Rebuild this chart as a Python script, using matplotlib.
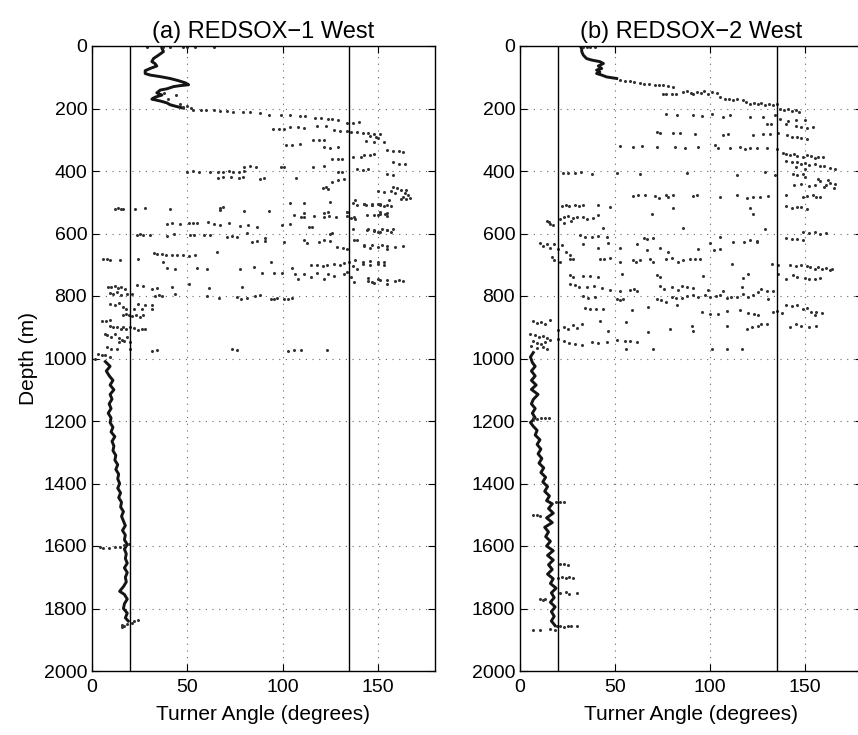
import matplotlib
matplotlib.use('Agg')
import matplotlib.pyplot as plt

plt.rcParams['font.family'] = ['Liberation Sans', 'DejaVu Sans']

# Turner angle (deg), depth (m)
bounds = [20, 135]
xticks = [0, 50, 100, 150]
yticks = list(range(0, 2001, 200))
titles = ['(a) REDSOX\u22121 West', '(b) REDSOX\u22122 West']

west1_top = [(36.7, 7), (37.5, 18), (35, 29), (32.3, 40), (31.4, 50), (33, 56), (34, 64), (30.5, 72),
             (27.9, 79), (27.9, 88), (30.5, 93), (35.8, 98), (41, 104), (45.4, 111), (49, 118), (50.7, 124),
             (46, 127), (42.8, 130), (39.3, 137), (35.8, 141), (34, 150), (36.7, 157), (33, 164),
             (31.4, 170), (35.8, 176), (39.3, 182), (41, 188), (44.6, 194), (48, 199)]

west1_deep = [(7, 1010), (9.5, 1025), (7.5, 1040), (9, 1055), (11, 1070), (9.5, 1085), (11.5, 1100),
              (9.5, 1115), (10.5, 1130), (9, 1145), (10, 1160), (8.5, 1175), (10, 1190), (9.5, 1205),
              (11, 1220), (10, 1235), (12, 1250), (10.5, 1265), (11.5, 1280), (11, 1295), (12.5, 1310),
              (12, 1325), (13.5, 1340), (12.5, 1355), (14, 1370), (13.5, 1385), (14.5, 1400), (13.5, 1415),
              (15, 1430), (14, 1445), (15.5, 1460), (15, 1475), (16.5, 1490), (15.5, 1505), (16.5, 1520),
              (17.5, 1535), (16, 1550), (17.5, 1565), (17, 1580), (18.5, 1595), (17, 1610), (18, 1625),
              (17.5, 1640), (18.5, 1655), (17, 1670), (18.5, 1685), (17.5, 1700), (18, 1715), (16.5, 1730),
              (14.5, 1745), (17, 1755), (18.5, 1770), (17, 1785), (16.5, 1800), (18.5, 1815), (17.5, 1830),
              (19, 1840)]

west1_dots = [
    (29, 3), (37, 3), (41, 4), (48, 3), (50, 4), (54, 4), (64, 4),
    (38, 150), (44, 158), (40, 170), (46, 185), (48, 195), (50, 192), (52, 197),
    (53, 206), (57, 206), (60, 206), (64, 206), (67, 207), (71, 207), (74, 212), (79, 212), (83, 212),
    (88, 214), (93, 222), (99, 222), (104, 222), (109, 225), (112, 225), (117, 229), (120, 229),
    (124, 232), (126, 234), (129, 236), (134, 245), (137, 245), (140, 244),
    (95, 266), (98, 265), (101, 264), (104, 260), (108, 258), (111, 262), (118, 255), (123, 256),
    (127, 270), (130, 271), (134, 272), (136, 275), (139, 276), (142, 277), (145, 278), (148, 280),
    (151, 282), (146, 288), (149, 291), (150, 295),
    (144, 305), (148, 308), (153, 306), (155, 333), (158, 335), (161, 337), (163, 338), (158, 372),
    (161, 376), (164, 378), (143, 348), (146, 350), (148, 346), (137, 356), (141, 355),
    (116, 300), (119, 302), (122, 301), (122, 322), (125, 325), (129, 324), (102, 317), (105, 318),
    (109, 315), (126, 362), (129, 360), (131, 361),
    (139, 394), (142, 396), (145, 392), (155, 410), (158, 413),
    (158, 450), (160, 455), (162, 460), (164, 470), (166, 478), (167, 485), (163, 482), (165, 462),
    (159, 470), (150, 465), (153, 466), (157, 463), (143, 505), (147, 508), (151, 510), (151, 532),
    (155, 535),
    (50, 402), (53, 401), (56, 402), (62, 403), (66, 402), (69, 404), (72, 400), (74, 403), (77, 402),
    (80, 400), (66, 421), (69, 420), (73, 418), (77, 421), (79, 420), (88, 426), (90, 423), (80, 387),
    (83, 385), (86, 388), (99, 386), (101, 388), (107, 421), (116, 388), (122, 384), (121, 455),
    (123, 452), (124, 458), (126, 436), (129, 430), (132, 425), (129, 404), (131, 402),
    (67, 518), (69, 516), (80, 528), (93, 528), (104, 502), (111, 503), (111, 533), (122, 534),
    (124, 530), (134, 530),
    (12, 520), (13.5, 519), (15, 520), (16.5, 521), (22.6, 522), (28, 518), (41, 523), (67.4, 524),
    (125, 499), (137, 503), (139, 510), (144, 508), (147, 510), (150, 506), (153, 512), (155, 510),
    (157, 513),
    (106, 542), (109.5, 547), (111, 548), (116.5, 545), (121.7, 546), (124.4, 543), (128, 548),
    (134, 544), (137.5, 547), (144.5, 540), (148, 542), (150, 541), (155, 543),
    (39.3, 568), (42, 566), (46.3, 570), (50.7, 565), (53, 566), (55, 565), (61, 564), (64, 570),
    (67, 572), (71.7, 567), (77.9, 576), (82, 573), (86.7, 578), (99.8, 572), (104, 568), (114, 578),
    (115.6, 580), (125, 600), (126, 598),
    (23.5, 604), (25, 603), (27, 605), (30.5, 606), (39.3, 607), (42.8, 603), (51.6, 605), (53.3, 606),
    (58.6, 605), (62, 604), (70.9, 610), (73.5, 609), (76.1, 611), (81.4, 599), (84, 626), (86.7, 625),
    (91, 614), (91, 625), (100.7, 626), (111, 620), (113, 630), (119, 627), (121.7, 622), (125, 625),
    (128.8, 642), (131.5, 645), (134, 650), (137.5, 620), (139, 621), (144.5, 588), (148, 592),
    (151, 594), (155, 590), (157, 595), (143, 641), (146, 646), (150, 643), (155, 650),
    (32.3, 663), (34, 664), (36.7, 666), (39, 669), (42, 670), (44.6, 668), (48, 669), (50.7, 672),
    (54, 670), (65.6, 658), (37.5, 690),
    (6, 683), (7.7, 683), (9.5, 684), (14.7, 685), (24.4, 680),
    (93.7, 690), (114.7, 702), (118, 700), (121, 703), (123.5, 701), (127, 697), (130, 700),
    (132.3, 695), (135, 690), (137, 705), (139, 712), (142, 697), (146, 700), (150, 698), (153, 701),
    (39.3, 710), (43.7, 712), (55, 711), (60.3, 712), (77.9, 712), (85, 707), (89.3, 725), (95.4, 725),
    (99.8, 725), (105, 710), (106.5, 728), (108, 745), (111, 730), (115, 738), (118, 725), (122, 744),
    (124, 728), (127, 735), (132, 730), (134, 722), (136, 738), (137.5, 755), (145, 752), (148, 758),
    (151, 750), (155, 760),
    (8.6, 770), (10, 772), (12, 768), (13.5, 775), (15, 770), (17.4, 778), (23.5, 765), (27, 768),
    (31.4, 778), (34, 775), (42, 772), (50.7, 762), (61.2, 774), (78.8, 771),
    (9.5, 790), (11, 795), (13, 788), (15, 796), (18.2, 792), (20.9, 793), (33, 800), (35, 797),
    (36.7, 800), (43.7, 795), (60.3, 801), (66.5, 806), (76, 804), (78, 809), (81.4, 806), (85.8, 800),
    (88.4, 797), (93.7, 808), (95.5, 811), (97.2, 807), (100.7, 809), (103, 808), (105, 805),
    (9.5, 825), (12, 830), (14, 822), (16.5, 835), (18, 841), (22, 840), (26, 841), (31.4, 840),
    (24.4, 826), (28, 828), (31.4, 830),
    (16.5, 860), (18, 858), (19.5, 862), (21, 865), (23, 860), (25, 866), (27, 861), (5, 879),
    (7.5, 880), (9.5, 878),
    (16.5, 900), (18, 905), (20, 898), (22, 902), (24, 908), (26, 904), (28, 907), (9.5, 895),
    (11, 900), (13, 898), (15, 905),
    (6.8, 920), (8, 925), (10, 930), (12, 922), (14, 935), (16, 940), (18.2, 930), (14, 946), (17, 945),
    (20, 948),
    (7.7, 962), (10, 968), (13, 970), (20, 970), (31.4, 975), (34, 973), (73.5, 970), (76, 972),
    (103, 975), (106, 974), (109.5, 973), (123.5, 972),
    (3.3, 985), (5, 990), (7, 988), (9.5, 995), (1.6, 1002),
    (138, 493), (143, 505), (147, 507), (151, 505), (156, 493), (162, 488), (165, 489), (134, 530),
    (136, 549), (138, 552), (151, 536), (154, 537), (137, 584), (145, 586), (148, 590), (150, 594),
    (152, 585), (155, 588), (158, 586), (143, 637), (147, 637), (152, 638), (155, 640), (159, 642),
    (163, 640), (138, 685), (142, 690), (146, 688), (150, 690), (153, 692), (145, 742), (147, 754),
    (150, 745), (155, 749), (159, 752), (161, 750), (163, 751),
    (4, 1603), (6, 1605), (9, 1606), (12, 1604), (14.7, 1602), (17, 1598), (19.5, 1595),
    (15.5, 1852), (17, 1855), (18.5, 1850), (22, 1840), (24, 1838), (21, 1845), (16, 1860)]

west2_top = [(32, 3), (32.5, 10), (32.5, 18), (33.3, 29), (35, 40), (37.7, 45), (42, 50), (43.9, 56),
             (41.2, 64), (43, 72), (40.3, 77), (42, 83), (40.3, 88), (43, 93), (45.6, 99), (50.9, 104)]

west2_deep = [(7, 981), (5.5, 995), (6.5, 1013), (8, 1025), (6, 1040), (8, 1056), (6, 1070), (8.5, 1085),
              (6, 1099), (9.5, 1115), (7, 1131), (6, 1145), (8, 1160), (6.5, 1175), (8, 1190), (5.5, 1205),
              (7, 1217), (9, 1230), (8, 1245), (10.5, 1260), (9, 1275), (11, 1290), (9.5, 1305),
              (11.5, 1320), (10, 1335), (12.5, 1350), (11, 1365), (13.5, 1380), (12, 1395), (14.5, 1410),
              (13, 1425), (15.5, 1440), (14, 1455), (17, 1465), (15, 1480), (17.5, 1495), (14, 1510),
              (17, 1525), (13, 1540), (15, 1555), (13.5, 1570), (16, 1585), (14, 1600), (17.5, 1615),
              (14.5, 1630), (17.5, 1645), (15, 1660), (17, 1675), (14.5, 1690), (17.5, 1705), (16, 1720),
              (19, 1735), (16.5, 1750), (18, 1765), (16, 1780), (18.5, 1795), (16.5, 1810), (18, 1825),
              (16.5, 1840), (18.5, 1855)]

west2_dots = [
    (33, 2), (35, 2), (37, 2), (39.5, 2), (52.6, 110), (55, 112), (58, 113), (60, 115), (63, 118),
    (65, 120), (68, 122), (71, 124), (73, 126), (75, 125), (78, 128), (80.7, 131), (75, 153), (77, 152),
    (80, 155), (82, 153), (86, 148), (88, 145), (90, 150), (91, 153), (93, 146), (95, 150), (97, 144),
    (99, 152), (101, 147), (103.5, 150), (105, 163), (108, 170), (110, 168), (112, 172), (114, 170),
    (117.5, 174), (119, 180), (121, 184), (123, 182), (125, 186), (127, 183), (129, 188), (131, 185),
    (133, 190), (135, 187), (137, 201), (139, 205), (141, 203), (143, 208), (145, 206), (147, 212),
    (77, 217), (82.4, 220), (91.2, 222), (95.6, 224), (100.9, 218), (107, 226), (110.5, 220), (121, 226),
    (128, 228), (134, 222), (137, 232), (141, 240), (145, 238), (150, 236), (140, 248), (145, 255),
    (148, 260), (151, 262), (154, 259), (130, 249), (132, 250),
    (72, 276), (73.7, 277), (80.7, 279), (84.2, 277), (92, 280), (107, 284), (109.6, 280), (122.8, 285),
    (128, 282), (131.5, 283), (136, 279), (140.3, 286), (143, 290), (146, 292), (148, 295), (151, 298),
    (52.6, 319), (59.6, 322), (64, 320), (72, 323), (81.6, 322), (86.8, 325), (93.8, 324), (102.6, 318),
    (104.4, 327), (110.5, 326), (115.8, 323), (118.4, 328), (121, 325), (124.5, 327), (129.8, 326),
    (135, 330),
    (138.6, 342), (140, 345), (142, 348), (144, 346), (145.6, 351), (149, 355), (151, 350), (153, 352),
    (155, 357), (157, 354), (159.6, 356),
    (140, 367), (143, 372), (146, 370), (148, 376), (150, 374), (152, 380), (155, 378), (158, 385),
    (160, 383), (163, 390), (166, 392), (145, 388), (150, 394),
    (22.8, 405), (25, 407), (29, 406), (32, 404), (37.7, 410), (50.9, 405), (63, 410), (87.7, 406),
    (114, 412), (129, 404), (134, 414), (143.8, 408), (146, 412), (149, 410),
    (150, 420), (157, 425), (162, 430), (163, 438), (155, 445), (160, 452), (165, 455), (148, 440),
    (144, 445), (158, 432), (161, 444), (152, 448), (166, 440),
    (59.6, 480), (62, 478), (66, 477), (71, 481), (73, 486), (77, 478), (78, 483), (80.7, 476), (91, 480),
    (93, 478), (105.2, 483), (114, 478), (119.3, 485), (122.8, 482), (126.3, 484), (130.7, 480),
    (140, 476), (149, 483), (151, 481), (154, 478), (156, 484), (158, 482),
    (22, 512), (24, 510), (26, 511), (29, 509), (31, 513), (33.3, 510), (41.2, 508), (47.4, 515),
    (69.3, 537), (80.7, 517), (121, 518), (122.8, 536), (140, 511), (143, 518), (146, 514), (148, 516),
    (151, 520),
    (14, 560), (15, 563), (16, 570), (17.5, 574), (21, 552), (23, 548), (25, 545), (28, 550), (30, 546),
    (33, 548), (35, 552), (38.6, 550), (23, 565), (27, 560), (41.2, 540), (43.9, 583), (86, 583),
    (129, 586), (149, 595), (152, 598), (155, 594), (158, 600), (161, 597),
    (31.6, 606), (34, 610), (38, 612), (41, 608), (45.6, 612), (65, 615), (67, 617), (70, 613), (105, 612),
    (121, 620), (124.5, 623), (140, 615), (143, 619), (146, 617), (149, 620),
    (10.5, 630), (12, 640), (14, 635), (16, 645), (18, 632), (20, 650), (22, 638), (24, 660), (26.3, 668),
    (33.3, 635), (41.2, 645), (46.5, 630), (52.6, 645), (61.4, 632), (66.7, 652), (73.7, 645), (78, 660),
    (93.8, 650), (100, 630), (102, 652), (105, 648), (112, 628), (118, 626), (124.5, 627),
    (16.7, 676), (18, 685), (21, 690), (26.3, 680), (28, 682), (42, 680), (44, 682), (47.4, 678),
    (52.6, 690), (59.6, 685), (61, 692), (63, 684), (68.4, 680), (70, 690), (77, 682), (80, 678),
    (83, 690), (86, 685), (89.5, 681), (92, 680), (94.7, 683), (111.4, 697), (132.4, 699), (136, 700),
    (142, 701), (145, 703), (148, 700), (151, 705), (152.6, 707), (155, 712), (157, 708), (159, 715),
    (161, 710), (163, 718), (164, 712),
    (26.3, 733), (28, 738), (33, 735), (37, 736), (41.2, 740), (53.5, 730), (72, 733), (73.7, 740),
    (96.5, 735), (117.5, 743), (120, 728), (136, 729), (140, 746), (143.8, 733), (146, 738), (150, 741),
    (152, 746), (155, 744), (158, 742),
    (26.3, 762), (29, 765), (31, 772), (35, 770), (39, 768), (43, 773), (47.4, 780), (52.6, 785),
    (58, 782), (59.8, 778), (61.4, 785), (73.7, 768), (76, 776), (80, 772), (83, 781), (85, 767),
    (87.7, 770), (91.2, 775), (99, 782), (107, 785), (116.6, 770), (125.4, 786), (127, 779),
    (129.8, 783), (133.3, 785),
    (33.3, 800), (36, 806), (39.5, 802), (51, 810), (52.6, 814), (54.4, 808), (72, 808), (74, 812),
    (77, 818), (79.8, 802), (82, 805), (85, 806), (87.7, 800), (91, 797), (93.8, 804), (97.3, 796),
    (100, 802), (103, 800), (105.2, 798), (108.7, 806), (111, 803), (114, 802), (117.5, 795), (120, 804),
    (122.8, 798), (130.7, 810),
    (34, 838), (37, 840), (40, 842), (43.9, 840), (58.8, 845), (67.5, 836), (82.4, 830), (95.6, 852),
    (100, 858), (104, 859), (108.7, 848), (115.8, 846), (120, 855), (123, 856), (125.4, 860),
    (133.3, 852), (135.5, 848), (137.7, 853), (140, 828), (143, 832), (146, 830), (149, 840), (151, 837),
    (153, 850), (156, 852), (158.8, 855), (155, 862),
    (7, 880), (9, 885), (11, 883), (13, 890), (15.8, 878), (20, 908), (23, 898), (25, 905), (28, 892),
    (30, 902), (32.5, 888), (42, 880), (46.5, 912), (56, 883), (67.5, 914), (79, 904), (90.3, 895),
    (91.2, 911), (108.7, 897), (119.3, 904), (122, 900), (125, 895), (127, 890), (129.8, 888), (142, 898),
    (145, 890), (148, 895), (152, 900), (156, 896),
    (5.3, 920), (8, 925), (10, 930), (12, 928), (14, 935), (15.8, 940), (7, 945), (9, 950), (11, 955),
    (13, 948), (6, 960), (9, 965), (12, 962), (14, 970), (20, 938), (23, 945), (26, 950), (29, 952),
    (32.5, 958), (37.7, 948), (41, 950), (45.6, 947), (51, 942), (55, 945), (58, 943), (61.4, 946),
    (56, 968), (70, 970), (101, 968), (108.7, 969), (116.6, 969),
    (7, 1190), (9, 1192), (11, 1189), (13, 1191), (15.5, 1190), (19, 1459), (21, 1460), (23, 1458),
    (7, 1502), (9, 1500), (10.5, 1503), (21, 1658), (23, 1656), (25.4, 1660), (20, 1701), (22, 1700),
    (24, 1702), (26, 1700), (28, 1703), (21, 1750), (24, 1748), (26, 1752), (29.8, 1750), (10.5, 1771),
    (12, 1772), (13.2, 1770), (19.3, 1857), (21, 1856), (23, 1858), (25, 1856), (27, 1857),
    (29.8, 1857), (7, 1868), (10.5, 1868), (15.8, 1866), (18.4, 1868)]

panels = [(west1_top, west1_deep, west1_dots), (west2_top, west2_deep, west2_dots)]

fig = plt.figure(figsize=(8.58, 7.35), dpi=100)
axes = [fig.add_axes([92/858, 64/735, 343/858, 625/735]),
        fig.add_axes([520/858, 64/735, 342/858, 625/735])]

for ax, (top, deep, dots), ttl in zip(axes, panels, titles):
    ax.set_axisbelow(True)
    ax.grid(True, linestyle=(0, (1, 5)), color='0.4', lw=0.8)
    for tr in (top, deep):
        ax.plot([p[0] for p in tr], [p[1] for p in tr], '-', color='0.08', lw=2.1)
    ax.plot([p[0] for p in dots], [p[1] for p in dots], 'o', color='0.2', ms=2.2, mew=0)
    for b in bounds:
        ax.axvline(b, color='k', lw=1)
    ax.set_xlim(0, 180)
    ax.set_ylim(2000, 0)
    ax.set_xticks(xticks)
    ax.set_yticks(yticks)
    ax.tick_params(direction='in', top=True, right=True, length=5, width=0.8, labelsize=14)
    ax.tick_params(axis='x', pad=6)
    for s in ax.spines.values():
        s.set_linewidth(1)
    ax.set_title(ttl, fontsize=17, pad=6)
    ax.set_xlabel('Turner Angle (degrees)', fontsize=15, labelpad=6)

axes[0].set_ylabel('Depth (m)', fontsize=15)

plt.savefig('out.png', dpi=100)
